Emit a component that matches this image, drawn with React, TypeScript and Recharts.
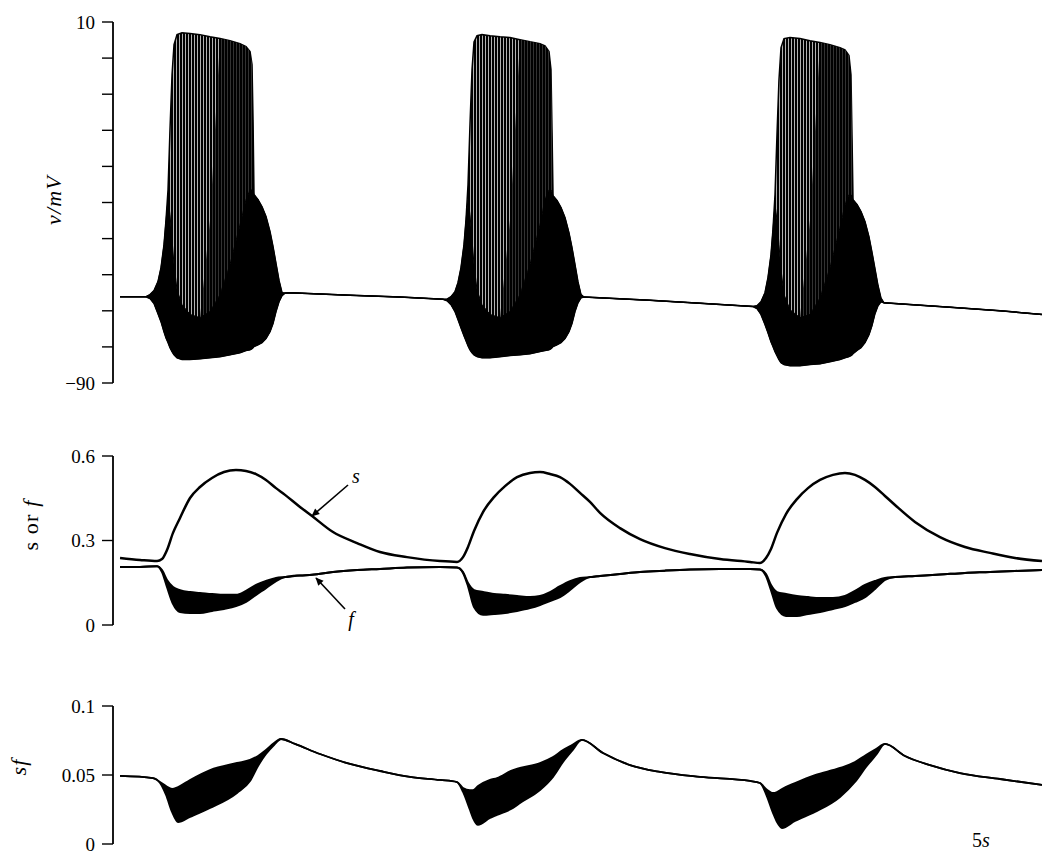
import React from 'react';
import { ComposedChart, Area, Line, XAxis, YAxis, ReferenceLine, ReferenceDot } from 'recharts';

const FONT = 'Liberation Serif, DejaVu Serif, serif';

// ---------- top panel: membrane potential v (mV) ----------
const vTime = [
  0, 0.433, 0.5, 0.567, 0.633, 0.683, 0.733, 0.767, 0.8, 0.833, 0.867, 0.9, 0.95, 1.033, 1.167, 1.333, 1.5, 1.667,
  1.833, 2.0, 2.1, 2.167, 2.2, 2.217, 2.233, 2.3, 2.367, 2.433, 2.5, 2.55, 2.6, 2.65, 2.7, 2.75, 2.833, 3.833, 4.667,
  5.383,
  5.45, 5.517, 5.583, 5.633, 5.683, 5.733, 5.767, 5.8, 5.833, 5.867, 5.9, 5.95, 6.033, 6.167, 6.333, 6.5, 6.667,
  6.833, 7.0, 7.083, 7.15, 7.183, 7.2, 7.217, 7.283, 7.35, 7.417, 7.483, 7.533, 7.583, 7.633, 7.683, 7.733, 8.833,
  9.667, 10.55,
  10.617, 10.683, 10.75, 10.8, 10.85, 10.883, 10.917, 10.95, 10.983, 11.017, 11.067, 11.167, 11.333, 11.5, 11.667,
  11.833, 12.0, 12.083, 12.15, 12.183, 12.2, 12.217, 12.283, 12.35, 12.417, 12.483, 12.533, 12.583, 12.633, 12.683,
  12.733, 13.833, 14.667, 15.367,
];
const vUpper = [
  -66.1, -66.1, -65.5, -64.4, -61.9, -58.1, -51.7, -44.8, -36.5, -19.8, -4.6, 3.7, 6.5, 7.0, 6.8, 6.5, 5.9, 5.4,
  4.8, 4.0, 3.2, 1.8, -1.8, -17.1, -37.8, -39.2, -41.2, -43.9, -48.1, -52.2, -56.9, -61.6, -65.0, -65.1, -65.0, -65.7, -66.2,
  -66.8,
  -66.8, -66.1, -64.7, -62.2, -58.1, -51.7, -44.8, -35.1, -18.5, -3.2, 4.5, 6.2, 6.5, 6.2, 5.9, 5.7, 5.1,
  4.5, 4.0, 3.4, 1.8, -3.2, -19.8, -38.1, -39.4, -41.4, -44.2, -48.4, -52.5, -57.2, -62.0, -65.5, -66.2, -67.1,
  -67.9, -68.8,
  -68.6, -67.5, -65.0, -60.8, -54.5, -47.5, -37.8, -21.2, -6.0, 2.9, 5.4, 5.7, 5.4, 4.8, 4.3,
  3.7, 2.9, 2.3, 0.7, -4.6, -21.2, -39.2, -40.5, -42.5, -45.3, -49.5, -53.8, -58.4, -63.0, -66.5,
  -67.8, -69.0, -70.0, -71.0,
];
// upper edge of the region where the spikes are densest (drawn solid black)
const vDenseTop = [
  -66.1, -66.1, -65.5, -64.4, -61.9, -58.1, -51.7, -44.8, -39.2, -43.4, -50.3, -57.2, -64.2, -68.3, -71.0, -71.9, -70.2, -65.5,
  -57.2, -46.2, -39.2, -36.5, -36.5, -36.5, -37.8, -39.2, -41.2, -43.9, -48.1, -52.2, -56.9, -61.6, -65.0, -65.1, -65.0, -65.7, -66.2,
  -66.8,
  -66.8, -66.1, -64.7, -62.2, -58.1, -51.7, -44.8, -39.2, -43.4, -50.3, -57.2, -64.2, -68.3, -71.0, -71.9, -70.2, -65.5,
  -57.2, -46.2, -39.2, -36.5, -36.5, -37.0, -38.1, -39.4, -41.4, -44.2, -48.4, -52.5, -57.2, -62.0, -65.5, -66.2, -67.1,
  -67.9, -68.8,
  -68.6, -67.5, -65.0, -60.8, -54.5, -47.5, -40.6, -44.8, -51.7, -58.6, -65.5, -69.7, -71.9, -71.0, -66.4,
  -58.1, -47.0, -40.6, -37.8, -37.8, -38.3, -39.2, -40.5, -42.5, -45.3, -49.5, -53.8, -58.4, -63.0, -66.5,
  -67.8, -69.0, -70.0, -71.0,
];
// upper edge of the late, tightly packed part of each burst
const vPackedTop = [
  -66.1, -66.1, -65.5, -64.4, -61.9, -58.1, -51.7, -44.8, -39.2, -43.4, -50.3, -57.2, -64.2, -68.3, -71.0, -71.9, -45.0, 5.4,
  4.8, 4.0, 3.2, 1.8, -1.8, -17.1, -37.8, -39.2, -41.2, -43.9, -48.1, -52.2, -56.9, -61.6, -65.0, -65.1, -65.0, -65.7, -66.2,
  -66.8,
  -66.8, -66.1, -64.7, -62.2, -58.1, -51.7, -44.8, -39.2, -43.4, -50.3, -57.2, -64.2, -68.3, -71.0, -71.9, -45.0, 5.1,
  4.5, 4.0, 3.4, 1.8, -3.2, -19.8, -38.1, -39.4, -41.4, -44.2, -48.4, -52.5, -57.2, -62.0, -65.5, -66.2, -67.1,
  -67.9, -68.8,
  -68.6, -67.5, -65.0, -60.8, -54.5, -47.5, -40.6, -44.8, -51.7, -58.6, -65.5, -69.7, -71.9, -45.0, 4.3,
  3.7, 2.9, 2.3, 0.7, -4.6, -21.2, -39.2, -40.5, -42.5, -45.3, -49.5, -53.8, -58.4, -63.0, -66.5,
  -67.8, -69.0, -70.0, -71.0,
];
const vLower = [
  -66.1, -66.1, -66.6, -68.0, -70.8, -73.0, -75.8, -77.5, -78.8, -80.2, -81.3, -82.2, -83.0, -83.5, -83.5, -83.3, -83.0, -82.7,
  -82.2, -81.6, -81.0, -80.8, -80.5, -80.2, -79.9, -79.4, -78.8, -77.7, -75.8, -73.5, -70.2, -67.5, -65.8, -65.1, -65.0, -65.7, -66.2,
  -66.8,
  -67.2, -68.3, -70.2, -72.4, -74.7, -76.9, -78.3, -79.7, -80.8, -81.6, -82.2, -82.7, -83.0, -83.0, -82.7, -82.4, -82.2,
  -81.9, -81.3, -81.0, -80.8, -80.5, -80.2, -79.9, -79.4, -78.8, -77.7, -75.8, -73.5, -70.2, -67.8, -66.4, -66.2, -67.1,
  -67.9, -68.8,
  -69.4, -71.0, -73.8, -76.1, -78.6, -79.9, -81.3, -82.4, -83.5, -84.4, -84.9, -85.2, -85.2, -84.9, -84.7,
  -84.1, -83.5, -83.0, -82.7, -82.4, -82.2, -81.9, -81.0, -80.2, -78.8, -76.6, -74.1, -70.8, -68.6, -67.5,
  -67.8, -69.0, -70.0, -71.0,
];
const vTicks = [-90, -80, -70, -60, -50, -40, -30, -20, -10, 0, 10];
const vTickLabels = ['\u221290', '', '', '', '', '', '', '', '', '', '10'];

// ---------- middle panel: s and f ----------
const midTime = [
  0, 0.333, 0.617, 0.7, 0.783, 0.883, 1.0, 1.167, 1.333, 1.533, 1.733, 1.933, 2.1, 2.267, 2.433, 2.6, 2.75, 3.0, 3.2,
  3.55, 3.95, 4.333, 4.783, 5.333, 5.617, 5.717, 5.8, 5.9, 6.05, 6.233, 6.417, 6.617, 6.833, 7.0, 7.167, 7.333, 7.5,
  7.667, 7.833, 8.0, 8.333, 8.667, 9.083, 9.5, 10.0, 10.5, 10.667, 10.767, 10.85, 10.95, 11.1, 11.283, 11.467, 11.667,
  11.883, 12.083, 12.25, 12.417, 12.583, 12.75, 12.917, 13.25, 13.667, 14.083, 14.5, 14.917, 15.367,
];
const sValues = [
  0.238, 0.231, 0.227, 0.234, 0.266, 0.327, 0.38, 0.451, 0.49, 0.522, 0.543, 0.55, 0.547, 0.536, 0.515, 0.486, 0.462, 0.419, 0.387,
  0.33, 0.291, 0.259, 0.241, 0.227, 0.224, 0.241, 0.277, 0.334, 0.401, 0.454, 0.493, 0.525, 0.54, 0.543, 0.536, 0.525, 0.501,
  0.469, 0.437, 0.398, 0.344, 0.305, 0.273, 0.252, 0.234, 0.224, 0.22, 0.238, 0.27, 0.327, 0.394, 0.447, 0.486, 0.515,
  0.533, 0.54, 0.533, 0.515, 0.49, 0.458, 0.426, 0.366, 0.312, 0.277, 0.256, 0.238, 0.227,
];
const fUpper = [
  0.206, 0.206, 0.209, 0.195, 0.16, 0.135, 0.124, 0.117, 0.114, 0.11, 0.107, 0.107, 0.121, 0.142, 0.156, 0.167, 0.17, 0.176, 0.178,
  0.188, 0.195, 0.199, 0.204, 0.206, 0.204, 0.188, 0.149, 0.124, 0.117, 0.11, 0.107, 0.103, 0.099, 0.103, 0.117, 0.138, 0.156,
  0.167, 0.17, 0.174, 0.181, 0.188, 0.193, 0.197, 0.199, 0.199, 0.197, 0.181, 0.142, 0.117, 0.11, 0.103, 0.099, 0.096,
  0.096, 0.103, 0.121, 0.142, 0.156, 0.167, 0.17, 0.174, 0.179, 0.185, 0.188, 0.192, 0.195,
];
const fLower = [
  0.206, 0.206, 0.209, 0.188, 0.135, 0.075, 0.046, 0.043, 0.043, 0.05, 0.057, 0.067, 0.082, 0.107, 0.131, 0.156, 0.17, 0.176, 0.178,
  0.188, 0.195, 0.199, 0.204, 0.206, 0.204, 0.185, 0.138, 0.064, 0.036, 0.039, 0.043, 0.05, 0.06, 0.071, 0.085, 0.099, 0.124,
  0.153, 0.17, 0.174, 0.181, 0.188, 0.193, 0.197, 0.199, 0.199, 0.197, 0.174, 0.124, 0.06, 0.032, 0.032, 0.039, 0.046,
  0.057, 0.067, 0.082, 0.099, 0.128, 0.16, 0.17, 0.174, 0.179, 0.185, 0.188, 0.192, 0.195,
];
const midTicks = [0, 0.3, 0.6];
const midTickLabels = ['0', '0.3', '0.6'];

// ---------- bottom panel: product sf ----------
const sfTime = [
  0, 0.55, 0.667, 0.767, 0.867, 0.967, 1.167, 1.5, 1.95, 2.167, 2.3, 2.433, 2.567, 2.683, 2.917, 3.333, 3.833, 4.333,
  4.833, 5.333, 5.617, 5.717, 5.833, 5.883, 5.967, 6.167, 6.283, 6.55, 6.667, 7.0, 7.217, 7.383, 7.533, 7.7, 8.05, 8.5,
  9.0, 9.667, 10.5, 10.667, 10.767, 10.883, 10.95, 11.033, 11.25, 11.583, 12.0, 12.25, 12.433, 12.6, 12.75, 13.083,
  13.5, 14.0, 14.667, 15.367,
];
const sfUpper = [
  0.0493, 0.0478, 0.0449, 0.042, 0.0399, 0.0413, 0.0464, 0.0536, 0.0587, 0.0609, 0.0638, 0.0681, 0.0732, 0.0761, 0.0725,
  0.0652, 0.058, 0.0529, 0.0486, 0.0464, 0.0449, 0.0406, 0.0391, 0.0391, 0.042, 0.0464, 0.0478, 0.0536, 0.0551, 0.0587,
  0.063, 0.0681, 0.0717, 0.0754, 0.0659, 0.0572, 0.0522, 0.0486, 0.0457, 0.0442, 0.0399, 0.037, 0.0377, 0.0399, 0.0442,
  0.05, 0.0551, 0.0594, 0.0645, 0.0688, 0.0725, 0.0638, 0.0572, 0.0514, 0.0471, 0.0428,
];
const sfLower = [
  0.0493, 0.0478, 0.0442, 0.0355, 0.0232, 0.0159, 0.0196, 0.0261, 0.037, 0.0457, 0.0565, 0.0652, 0.0717, 0.0761, 0.0725,
  0.0652, 0.058, 0.0529, 0.0486, 0.0464, 0.0449, 0.0377, 0.0246, 0.0188, 0.0138, 0.0188, 0.021, 0.0261, 0.0297, 0.0391,
  0.0486, 0.0594, 0.0674, 0.0754, 0.0659, 0.0572, 0.0522, 0.0486, 0.0457, 0.0442, 0.0362, 0.0225, 0.0159, 0.0116, 0.0167,
  0.0232, 0.0341, 0.0449, 0.0558, 0.0645, 0.0725, 0.0638, 0.0572, 0.0514, 0.0471, 0.0428,
];
const sfTicks = [0, 0.05, 0.1];
const sfTickLabels = ['0', '0.05', '0.1'];

const X_DOMAIN: [number, number] = [-0.117, 15.367];

const vData = vTime.map((t, i) => ({ t, hi: vUpper[i], mid: vDenseTop[i], packed: vPackedTop[i], lo: vLower[i] }));
const midData = midTime.map((t, i) => ({ t, s: sValues[i], fHi: fUpper[i], fLo: fLower[i] }));
const sfData = sfTime.map((t, i) => ({ t, hi: sfUpper[i], lo: sfLower[i] }));

const fmt = (ticks: number[], labels: string[]) => (v: number) => {
  const i = ticks.findIndex((x) => Math.abs(x - v) < 1e-9);
  return i >= 0 ? labels[i] : '';
};

type Part = { text: string; italic?: boolean };
const axisTitle = (parts: Part[], cx: number, cy: number) => () => (
  <text
    x={cx}
    y={cy}
    transform={`rotate(-90 ${cx} ${cy})`}
    textAnchor="middle"
    dominantBaseline="central"
    fontFamily={FONT}
    fontSize={22}
    letterSpacing={1.2}
    fill="#000"
  >
    {parts.map((p, i) => (
      <tspan key={i} fontStyle={p.italic ? 'italic' : 'normal'}>
        {p.text}
      </tspan>
    ))}
  </text>
);

const axisCommon = {
  type: 'number' as const,
  width: 113,
  tickSize: 11,
  tickMargin: 7,
  interval: 0 as const,
  allowDataOverflow: true,
  axisLine: { stroke: '#000', strokeWidth: 1.8 },
  tickLine: { stroke: '#000', strokeWidth: 1.4 },
  tick: { fill: '#000', fontSize: 19, fontFamily: FONT },
};

const arrowShape = (p: any) => (
  <line x1={p.x1} y1={p.y1} x2={p.x2} y2={p.y2} stroke="#000" strokeWidth={1.6} markerEnd="url(#arrowHead)" />
);

function Defs() {
  return (
    <svg width={0} height={0} style={{ position: 'absolute', left: 0, top: 0 }}>
      <defs>
        <pattern id="burstStripes" x="0" y="0" width="3" height="6" patternUnits="userSpaceOnUse">
          <rect width="3" height="6" fill="#fff" />
          <rect width="2.3" height="6" fill="#000" />
        </pattern>
        <pattern id="burstPacked" x="0" y="0" width="3" height="6" patternUnits="userSpaceOnUse">
          <rect width="3" height="6" fill="#fff" />
          <rect width="2.8" height="6" fill="#000" />
        </pattern>
        <marker
          id="arrowHead"
          viewBox="0 0 10 10"
          refX="9"
          refY="5"
          markerWidth="10"
          markerHeight="8"
          markerUnits="userSpaceOnUse"
          orient="auto"
        >
          <path d="M0,0.5 L10,5 L0,9.5 z" fill="#000" />
        </marker>
      </defs>
    </svg>
  );
}

export default function App() {
  return (
    <div style={{ position: 'absolute', left: 0, top: 0, width: 1042, height: 863, background: '#fff', overflow: 'hidden' }}>
      <Defs />
      <div style={{ position: 'absolute', left: 0, top: 0 }}>
        <ComposedChart width={1042} height={400} data={vData} margin={{ top: 22, right: 0, bottom: 17, left: 0 }}>
          <XAxis type="number" dataKey="t" domain={X_DOMAIN} hide allowDataOverflow />
          <YAxis
            {...axisCommon}
            domain={[-90, 10]}
            ticks={vTicks}
            tickFormatter={fmt(vTicks, vTickLabels)}
            label={{ content: axisTitle([{ text: 'v/mV', italic: true }], 53, 200) }}
          />
          <Area
            type="linear"
            dataKey={(d: any) => [d.lo, d.hi]}
            fill="url(#burstStripes)"
            fillOpacity={1}
            stroke="#000"
            strokeWidth={1.5}
            dot={false}
            activeDot={false}
            isAnimationActive={false}
          />
          <Area
            type="linear"
            dataKey={(d: any) => [d.mid, d.packed]}
            fill="url(#burstPacked)"
            fillOpacity={1}
            stroke="none"
            dot={false}
            activeDot={false}
            isAnimationActive={false}
          />
          <Area
            type="linear"
            dataKey={(d: any) => [d.lo, d.mid]}
            fill="#000"
            fillOpacity={1}
            stroke="#000"
            strokeWidth={1}
            dot={false}
            activeDot={false}
            isAnimationActive={false}
          />
        </ComposedChart>
      </div>

      <div style={{ position: 'absolute', left: 0, top: 440 }}>
        <ComposedChart width={1042} height={200} data={midData} margin={{ top: 16, right: 0, bottom: 15, left: 0 }}>
          <XAxis type="number" dataKey="t" domain={X_DOMAIN} hide allowDataOverflow />
          <YAxis
            {...axisCommon}
            domain={[0, 0.6]}
            ticks={midTicks}
            tickFormatter={fmt(midTicks, midTickLabels)}
            label={{ content: axisTitle([{ text: 's or ' }, { text: 'f', italic: true }], 30, 525 - 440) }}
          />
          <Area
            type="monotone"
            dataKey={(d: any) => [d.fLo, d.fHi]}
            fill="#000"
            fillOpacity={1}
            stroke="#000"
            strokeWidth={2}
            dot={false}
            activeDot={false}
            isAnimationActive={false}
          />
          <Line
            type="monotone"
            dataKey="s"
            stroke="#000"
            strokeWidth={2.5}
            dot={false}
            activeDot={false}
            isAnimationActive={false}
          />
          <ReferenceLine segment={[{ x: 3.8, y: 0.497 }, { x: 3.2, y: 0.387 }]} shape={arrowShape} />
          <ReferenceLine segment={[{ x: 3.75, y: 0.057 }, { x: 3.267, y: 0.167 }]} shape={arrowShape} />
          <ReferenceDot
            x={3.933}
            y={0.529}
            r={0}
            fill="none"
            stroke="none"
            label={{ value: 's', position: 'center', fontStyle: 'italic', fontSize: 20, fontFamily: FONT, fill: '#000' }}
          />
          <ReferenceDot
            x={3.85}
            y={0.021}
            r={0}
            fill="none"
            stroke="none"
            label={{ value: 'f', position: 'center', fontStyle: 'italic', fontSize: 20, fontFamily: FONT, fill: '#000' }}
          />
        </ComposedChart>
      </div>

      <div style={{ position: 'absolute', left: 0, top: 690 }}>
        <ComposedChart width={1042} height={173} data={sfData} margin={{ top: 16, right: 0, bottom: 0, left: 0 }}>
          <XAxis
            type="number"
            dataKey="t"
            domain={X_DOMAIN}
            allowDataOverflow
            height={19}
            axisLine={false}
            tickLine={false}
            tick={false}
            label={{
              content: () => (
                <text x={972} y={157} fontFamily={FONT} fontSize={20} fill="#000">
                  <tspan>5</tspan>
                  <tspan fontStyle="italic">s</tspan>
                </text>
              ),
            }}
          />
          <YAxis
            {...axisCommon}
            domain={[0, 0.1]}
            ticks={sfTicks}
            tickFormatter={fmt(sfTicks, sfTickLabels)}
            label={{ content: axisTitle([{ text: 'sf', italic: true }], 18, 77) }}
          />
          <Area
            type="monotone"
            dataKey={(d: any) => [d.lo, d.hi]}
            fill="#000"
            fillOpacity={1}
            stroke="#000"
            strokeWidth={1.8}
            dot={false}
            activeDot={false}
            isAnimationActive={false}
          />
        </ComposedChart>
      </div>
    </div>
  );
}
